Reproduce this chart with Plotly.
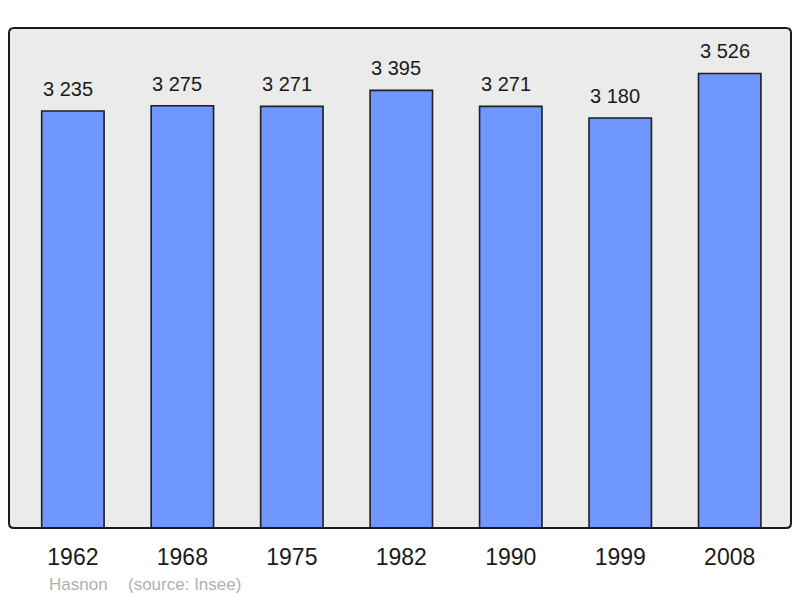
import plotly.graph_objects as go

years = ["1962", "1968", "1975", "1982", "1990", "1999", "2008"]
population = [3235, 3275, 3271, 3395, 3271, 3180, 3526]
commune = "Hasnon"
source = "(source: Insee)"

FONT = "Liberation Sans, Arial, sans-serif"
# the page body has an 8px margin, so the figure is placed at (8, 8)
OFF = 8
W, H = 800 - OFF, 598 - OFF
ML, MR, MT, MB = 9 - OFF, 800 - 791, 28 - OFF, 598 - 528

fig = go.Figure()
fig.add_trace(go.Bar(
    x=years, y=population, width=0.57,
    marker=dict(color="#7096ff", line=dict(color="#1e1e1e", width=1.6)),
    hoverinfo="skip",
))

for i, v in enumerate(population):
    fig.add_annotation(
        x=i, y=v, xref="x", yref="y",
        text=f"{v:,}".replace(",", " "),
        showarrow=False, yanchor="bottom", yshift=9, xshift=-5,
        font=dict(family=FONT, size=20, color="#1a1a1a"),
    )

pw = W - ML - MR
ph = H - MT - MB
rx, ry = 5 / pw, 5 / ph
path = (f"M {rx},0 L {1-rx},0 Q 1,0 1,{ry} L 1,{1-ry} Q 1,1 {1-rx},1 "
        f"L {rx},1 Q 0,1 0,{1-ry} L 0,{ry} Q 0,0 {rx},0 Z")
fig.add_shape(type="path", path=path, xref="paper", yref="paper",
              fillcolor="#ebebeb", line=dict(width=0), layer="below")
fig.add_shape(type="path", path=path, xref="paper", yref="paper",
              fillcolor="rgba(0,0,0,0)", line=dict(color="#1a1a1a", width=2), layer="above")

foot_y = -(584 - 528) / ph
fig.add_annotation(x=(47 - 9) / pw, y=foot_y, xref="paper", yref="paper",
                   text=commune, showarrow=False, xanchor="left", yanchor="middle",
                   font=dict(family=FONT, size=17, color="#b0b0b0"))
fig.add_annotation(x=(126 - 9) / pw, y=foot_y, xref="paper", yref="paper",
                   text=source, showarrow=False, xanchor="left", yanchor="middle",
                   font=dict(family=FONT, size=17, color="#b0b0b0"))

fig.update_layout(
    width=W, height=H,
    margin=dict(l=ML, r=MR, t=MT, b=MB, pad=0),
    paper_bgcolor="white", plot_bgcolor="rgba(0,0,0,0)",
    showlegend=False,
    xaxis=dict(type="category", range=[-0.5837, 6.56], showgrid=False, zeroline=False,
               showline=False, ticks="outside", ticklen=8, tickcolor="rgba(0,0,0,0)",
               tickfont=dict(family=FONT, size=23, color="#1a1a1a"), fixedrange=True),
    yaxis=dict(range=[0, 3878.6], showgrid=False, zeroline=False, showline=False,
               showticklabels=False, ticks="", fixedrange=True),
)

fig.write_html("out.html")
